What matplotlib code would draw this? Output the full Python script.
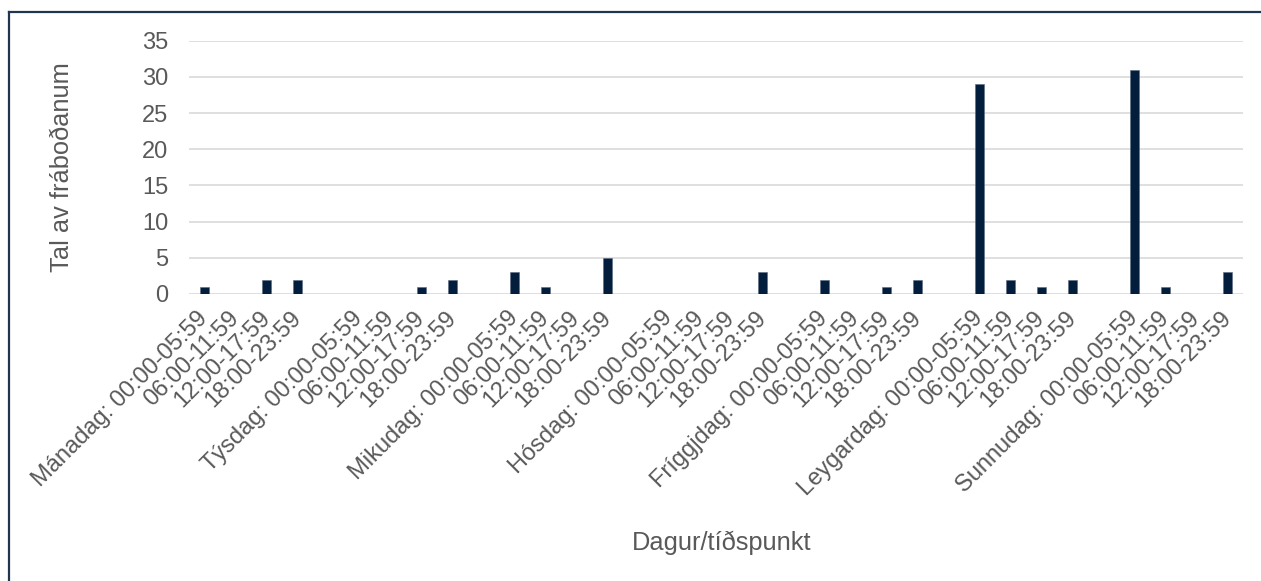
import matplotlib
matplotlib.use("Agg")
import matplotlib.pyplot as plt
from matplotlib.lines import Line2D
import numpy as np

# days of the week (Faroese) and the four time slots per day
days = ["Mánadag", "Týsdag", "Mikudag", "Hósdag", "Fríggjdag", "Leygardag", "Sunnudag"]
slots = ["00:00-05:59", "06:00-11:59", "12:00-17:59", "18:00-23:59"]

# number of reports per day, one value per time slot
manadag = [1, 0, 2, 2]
tysdag = [0, 0, 1, 2]
mikudag = [3, 1, 0, 5]
hosdag = [0, 0, 0, 3]
friggjdag = [2, 0, 1, 2]
leygardag = [29, 2, 1, 2]
sunnudag = [31, 1, 0, 3]

counts = [manadag, tysdag, mikudag, hosdag, friggjdag, leygardag, sunnudag]

# build category list with an empty gap category between days
labels = []
values = []
for i, (day, vals) in enumerate(zip(days, counts)):
    for j, (slot, v) in enumerate(zip(slots, vals)):
        labels.append(f"{day}: {slot}" if j == 0 else slot)
        values.append(v)
    if i < len(days) - 1:
        labels.append("")
        values.append(0)

plt.rcParams["font.family"] = ["Liberation Sans", "DejaVu Sans"]

fig = plt.figure(figsize=(12.61, 5.81), dpi=100)
fig.patch.set_facecolor("white")
ax = fig.add_axes([0.1499, 0.4940, 0.8358, 0.4360])

x = np.arange(len(values))
ax.bar(x, values, width=0.32, color="#021E3C", edgecolor="#5a6b80", linewidth=0.4, zorder=3)

ax.set_xlim(-0.5, len(values) - 0.5)
ax.set_ylim(0, 35)
ax.set_yticks(np.arange(0, 36, 5))
ax.yaxis.grid(True, color="#D9D9D9", linewidth=1.2, zorder=0)
ax.set_axisbelow(True)
for s in ax.spines.values():
    s.set_visible(False)

ax.tick_params(axis="both", length=0, colors="#595959")
ax.tick_params(axis="y", pad=15, labelsize=17)
ax.set_xticks(x)
ax.set_xticklabels(labels, rotation=45, ha="right", va="center",
                   rotation_mode="anchor", fontsize=17)
ax.tick_params(axis="x", pad=15)

ax.set_xlabel("Dagur/tíðspunkt", fontsize=18.3, color="#595959", va="center")
ax.xaxis.set_label_coords(0.505, -0.983)
ax.set_ylabel("Tal av fráboðanum", fontsize=18.3, color="#595959", va="center")
ax.yaxis.set_label_coords(-0.1205, 0.5)

# chart area frame (left and top edges visible)
frame_col = "#1F3550"
fig.add_artist(Line2D([0.0075, 0.0075], [0.0, 0.9802], color=frame_col, linewidth=1.6,
                      transform=fig.transFigure))
fig.add_artist(Line2D([0.0075, 1.0], [0.9802, 0.9802], color=frame_col, linewidth=1.6,
                      transform=fig.transFigure))

fig.savefig("out.png", dpi=100)
